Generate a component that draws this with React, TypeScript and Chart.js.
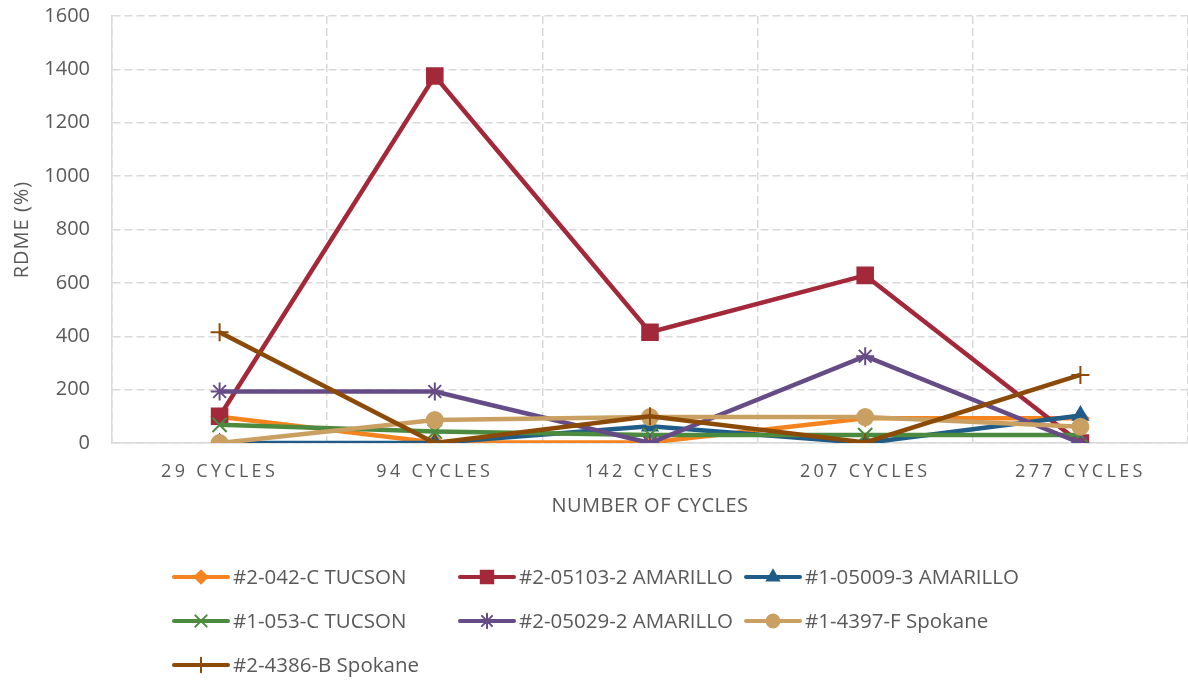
import React, { useEffect, useRef } from 'react';
import { Chart, registerables } from 'chart.js';
import { drawPoint } from 'chart.js/helpers';

Chart.register(...registerables);

// ---- data ----
const categories = ['29 CYCLES', '94 CYCLES', '142 CYCLES', '207 CYCLES', '277 CYCLES'];
const seriesNames = [
  '#2-042-C TUCSON',
  '#2-05103-2 AMARILLO',
  '#1-05009-3 AMARILLO',
  '#1-053-C TUCSON',
  '#2-05029-2 AMARILLO',
  '#1-4397-F Spokane',
  '#2-4386-B Spokane',
];
const tucson042 = [98, 2, 2, 93, 93];
const amarillo05103 = [100, 1375, 415, 628, 0];
const amarillo05009 = [0, 0, 63, 0, 103];
const tucson053 = [68, 43, 30, 30, 30];
const amarillo05029 = [193, 193, 0, 325, 0];
const spokane4397 = [0, 86, 97, 97, 61];
const spokane4386 = [415, 0, 100, 2, 255];
const yTicksMin = 0;
const yTicksMax = 1600;
const yTicksStep = 200;
const xTitle = 'NUMBER OF CYCLES';
const yTitle = 'RDME (%)';

// ---- styles ----
const seriesValues = [tucson042, amarillo05103, amarillo05009, tucson053, amarillo05029, spokane4397, spokane4386];
const seriesColors = ['#F5841F', '#A3293A', '#1F5C87', '#4C8B3F', '#664C87', '#C9A062', '#8B4A08'];
const seriesPointStyles = ['rectRot', 'rect', 'triangle', 'crossRot', 'star', 'circle', 'cross'];
const seriesPointRadius = [8, 11, 8.5, 10, 9, 8, 9];
const FONT = '"Open Sans", sans-serif';
const TEXT_COLOR = '#595959';
const GRID_COLOR = '#D9D9D9';

const LEGEND_X = 174;
const LEGEND_Y = 577;
const LEGEND_COL_W = 286;
const LEGEND_ROW_H = 44;
const LEGEND_COLS = 3;
const LEGEND_LINE_W = 54;

function wrapSpacing(scale: any, method: string, spacing: string) {
  if (!scale || scale['__w_' + method]) return;
  const orig = scale[method];
  scale[method] = function (...args: any[]) {
    const ctx = this.ctx;
    ctx.save();
    ctx.letterSpacing = spacing;
    orig.apply(this, args);
    ctx.restore();
  };
  scale['__w_' + method] = true;
}

const spacingPlugin = {
  id: 'letterSpacingPlugin',
  afterLayout(chart: any) {
    wrapSpacing(chart.scales.x, 'drawLabels', '3.3px');
    wrapSpacing(chart.scales.x, 'drawTitle', '0.5px');
    wrapSpacing(chart.scales.y, 'drawTitle', '1px');
  },
};

const legendPlugin = {
  id: 'gridLegend',
  afterDraw(chart: any) {
    const ctx = chart.ctx;
    chart.data.datasets.forEach((ds: any, i: number) => {
      const col = i % LEGEND_COLS;
      const row = Math.floor(i / LEGEND_COLS);
      const x0 = LEGEND_X + col * LEGEND_COL_W;
      const y = LEGEND_Y + row * LEGEND_ROW_H;
      ctx.save();
      ctx.strokeStyle = ds.borderColor;
      ctx.lineWidth = 4;
      ctx.lineCap = 'round';
      ctx.beginPath();
      ctx.moveTo(x0, y);
      ctx.lineTo(x0 + LEGEND_LINE_W, y);
      ctx.stroke();
      ctx.fillStyle = ds.pointBackgroundColor;
      ctx.strokeStyle = ds.pointBorderColor;
      ctx.lineWidth = ds.pointBorderWidth;
      drawPoint(
        ctx,
        { pointStyle: ds.pointStyle, radius: ds.pointRadius * 0.8, rotation: 0, borderWidth: ds.pointBorderWidth },
        x0 + LEGEND_LINE_W / 2,
        y
      );
      ctx.fillStyle = TEXT_COLOR;
      ctx.font = '20.5px ' + FONT;
      ctx.textBaseline = 'middle';
      ctx.textAlign = 'left';
      ctx.fillText(ds.label, x0 + LEGEND_LINE_W + 5, y + 1);
      ctx.restore();
    });
  },
};

export default function App() {
  const canvasRef = useRef<HTMLCanvasElement | null>(null);

  useEffect(() => {
    if (!canvasRef.current) return;
    const n = seriesNames.length;
    const chart = new Chart(canvasRef.current, {
      type: 'line',
      data: {
        labels: categories,
        datasets: seriesNames.map((name, i) => ({
          label: name,
          data: seriesValues[i],
          borderColor: seriesColors[i],
          backgroundColor: seriesColors[i],
          pointBackgroundColor: seriesColors[i],
          pointBorderColor: seriesColors[i],
          pointStyle: seriesPointStyles[i] as any,
          pointRadius: seriesPointRadius[i],
          pointBorderWidth: 2,
          borderWidth: 4.5,
          tension: 0,
          fill: false,
          order: n - 1 - i,
        })),
      },
      options: {
        responsive: false,
        animation: false,
        devicePixelRatio: 1,
        layout: { autoPadding: false, padding: { left: 0, right: 0, top: 16, bottom: 162 } },
        plugins: {
          legend: { display: false },
          tooltip: { enabled: false },
        },
        scales: {
          x: {
            offset: true,
            grid: { offset: true, color: GRID_COLOR, lineWidth: 1.5, drawTicks: false },
            border: { display: true, color: GRID_COLOR, width: 1.5, dash: [8, 4] },
            ticks: {
              color: TEXT_COLOR,
              font: { family: FONT, size: 18 },
              padding: 18,
              autoSkip: false,
              maxRotation: 0,
            },
            title: {
              display: true,
              text: xTitle,
              color: TEXT_COLOR,
              font: { family: FONT, size: 20 },
              padding: { top: 0, bottom: 0 },
            },
            afterFit: (s: any) => {
              s.height = 75;
              s.paddingLeft = 0;
              s.paddingRight = 0;
            },
          },
          y: {
            min: yTicksMin,
            max: yTicksMax,
            grid: { color: GRID_COLOR, lineWidth: 1.5, drawTicks: false },
            border: { display: true, color: GRID_COLOR, width: 1.5, dash: [8, 4] },
            ticks: {
              stepSize: yTicksStep,
              color: TEXT_COLOR,
              font: { family: FONT, size: 20 },
              padding: 22,
              callback: (v: any) => String(v),
            },
            title: {
              display: true,
              text: yTitle,
              color: TEXT_COLOR,
              font: { family: FONT, size: 20 },
              padding: { top: 10, bottom: 0 },
            },
            afterFit: (s: any) => {
              s.width = 112;
              s.paddingTop = 0;
              s.paddingBottom = 0;
            },
          },
        },
      },
      plugins: [spacingPlugin, legendPlugin],
    });
    return () => chart.destroy();
  }, []);

  return (
    <div style={{ position: 'absolute', left: 0, top: 0, width: 1188, height: 680, background: '#fff' }}>
      <canvas ref={canvasRef} width={1188} height={680} />
    </div>
  );
}
